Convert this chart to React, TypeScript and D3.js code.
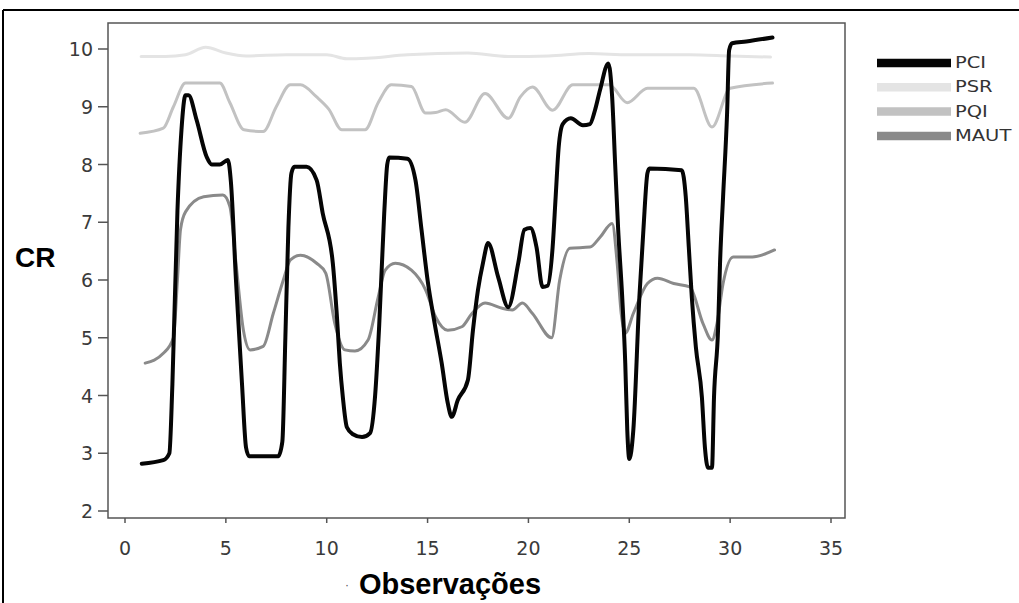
import React from "react";
import * as d3 from "d3";

const seriesNames = ["PCI", "PSR", "PQI", "MAUT"];
const seriesColors = ["#050505", "#e4e4e4", "#c2c2c2", "#8a8a8a"];
const seriesWidths = [4, 3, 3, 3];

const xTicks = [0, 5, 10, 15, 20, 25, 30, 35];
const yTicks = [2, 3, 4, 5, 6, 7, 8, 9, 10];

const pci: [number, number][] = [
  [0.83, 2.82], [1.9, 2.88], [2.2, 3.0], [2.35, 4.2], [2.6, 7.2], [2.8, 8.6], [3.0, 9.2], [3.15, 9.2],
  [3.55, 8.77], [4.05, 8.13], [4.3, 8.0], [4.7, 8.0], [5.1, 8.08], [5.25, 7.7], [5.5, 6.0], [5.8, 4.2],
  [6.0, 3.1], [6.15, 2.95], [7.6, 2.95], [7.8, 3.2], [7.95, 5.0], [8.1, 6.9], [8.25, 7.85], [8.4, 7.96],
  [9.0, 7.96], [9.5, 7.73], [9.8, 7.16], [10.3, 6.3], [10.5, 5.4], [10.65, 4.56], [10.8, 3.97], [11.0, 3.45],
  [11.3, 3.33], [11.75, 3.28], [12.15, 3.35], [12.4, 4.0], [12.6, 5.2], [12.85, 7.15], [13.0, 8.0], [13.1, 8.12],
  [14.0, 8.1], [14.4, 7.73], [14.7, 6.87], [15.0, 6.0], [15.35, 5.25], [15.7, 4.56], [16.0, 3.87], [16.2, 3.63],
  [16.5, 3.92], [17.0, 4.27], [17.25, 5.13], [17.5, 5.83], [17.75, 6.3], [18.0, 6.64], [18.5, 6.05], [19.0, 5.53],
  [19.5, 6.3], [19.8, 6.87], [20.1, 6.9], [20.4, 6.57], [20.7, 5.88], [20.95, 5.9], [21.2, 6.57], [21.35, 7.44],
  [21.5, 8.3], [21.7, 8.7], [22.1, 8.8], [22.7, 8.68], [23.05, 8.7], [23.3, 8.94], [23.55, 9.29], [23.96, 9.75],
  [24.15, 9.17], [24.3, 8.0], [24.45, 6.87], [24.65, 5.7], [24.8, 4.56], [24.9, 3.4], [25.0, 2.9], [25.2, 3.4],
  [25.5, 5.7], [25.7, 6.87], [25.9, 7.85], [26.0, 7.93], [27.6, 7.9], [27.8, 7.44], [27.95, 6.57], [28.1, 5.7],
  [28.3, 4.84], [28.6, 3.97], [28.75, 3.1], [28.9, 2.75], [29.1, 2.75], [29.2, 3.97], [29.4, 5.13], [29.5, 6.3],
  [29.65, 7.44], [29.85, 8.9], [29.95, 9.98], [30.1, 10.1], [30.8, 10.13], [32.1, 10.2],
];

const psr: [number, number][] = [
  [0.8, 9.87], [2, 9.87], [3, 9.9], [4, 10.03], [5, 9.93], [6, 9.88], [8, 9.9], [10, 9.9], [11, 9.83],
  [12, 9.84], [14, 9.9], [17, 9.93], [19, 9.87], [21, 9.88], [23, 9.92], [25, 9.9], [28, 9.9], [30, 9.88], [32, 9.86],
];

const pqi: [number, number][] = [
  [0.75, 8.54], [1.9, 8.63], [2.4, 9.0], [3.0, 9.41], [4.7, 9.41], [5.2, 9.07], [5.9, 8.6], [6.85, 8.57],
  [7.5, 9.0], [8.2, 9.38], [8.7, 9.38], [9.5, 9.17], [10.1, 8.96], [10.75, 8.6], [11.9, 8.6], [12.55, 9.07],
  [13.2, 9.38], [14.2, 9.35], [14.9, 8.89], [15.4, 8.9], [15.9, 8.95], [16.85, 8.73], [17.85, 9.23], [19.0, 8.8],
  [19.6, 9.17], [20.2, 9.34], [21.2, 8.94], [22.2, 9.38], [24.0, 9.38], [24.9, 9.07], [25.9, 9.32], [28.2, 9.32],
  [29.1, 8.65], [30.0, 9.32], [32.1, 9.41],
];

const maut: [number, number][] = [
  [1.0, 4.56], [1.9, 4.73], [2.4, 5.0], [2.6, 6.0], [2.75, 6.87], [3.0, 7.18], [3.9, 7.44], [4.85, 7.47],
  [5.2, 7.27], [5.5, 6.3], [5.87, 5.13], [6.2, 4.79], [6.85, 4.85], [7.35, 5.42], [7.85, 6.0], [8.2, 6.35],
  [8.7, 6.43], [9.5, 6.29], [9.95, 6.12], [10.4, 5.25], [10.9, 4.79], [11.4, 4.77], [12.05, 4.96], [12.55, 5.7],
  [12.9, 6.17], [13.4, 6.29], [14.2, 6.17], [14.9, 5.83], [15.4, 5.36], [16.0, 5.13], [16.7, 5.19], [17.2, 5.42],
  [17.85, 5.6], [18.7, 5.51], [19.2, 5.48], [19.7, 5.6], [20.2, 5.42], [21.15, 5.0], [21.55, 6.0], [22.05, 6.55],
  [23.05, 6.57], [23.55, 6.74], [24.15, 6.98], [24.4, 6.29], [24.6, 5.42], [24.8, 5.08], [25.2, 5.42], [25.9, 5.94],
  [26.4, 6.03], [27.2, 5.94], [28.0, 5.88], [28.65, 5.25], [29.1, 4.96], [29.35, 5.25], [29.65, 5.94], [30.15, 6.4],
  [31.1, 6.4], [32.2, 6.52],
];

const allSeries = [pci, psr, pqi, maut];

export default function App() {
  const x = d3.scaleLinear().domain([0, 35]).range([125, 831]);
  const y = d3.scaleLinear().domain([2, 10]).range([511, 49]);
  const box = { left: 108, top: 23, right: 845, bottom: 518 };
  const line = d3
    .line<[number, number]>()
    .x((d) => x(d[0]))
    .y((d) => y(d[1]))
    .curve(d3.curveMonotoneX);

  const tickFont = "'DejaVu Sans', Verdana, sans-serif";
  const drawOrder = [1, 2, 3, 0];

  return (
    <div style={{ position: "absolute", left: 0, top: 0 }}>
      <svg width={1019} height={603} style={{ display: "block", background: "#fff" }}>
        <line x1={3} y1={10} x2={1019} y2={10} stroke="#000" strokeWidth={2} />
        <line x1={3} y1={10} x2={3} y2={603} stroke="#000" strokeWidth={2} />

        <rect
          x={box.left}
          y={box.top}
          width={box.right - box.left}
          height={box.bottom - box.top}
          fill="none"
          stroke="#555"
          strokeWidth={1.5}
        />

        {yTicks.map((t) => (
          <g key={"y" + t}>
            <line x1={box.left - 10} x2={box.left} y1={y(t)} y2={y(t)} stroke="#555" strokeWidth={1.5} />
            <text
              x={box.left - 15}
              y={y(t)}
              textAnchor="end"
              dominantBaseline="central"
              fontFamily={tickFont}
              fontSize={19}
              fill="#3a3a3a"
            >
              {t}
            </text>
          </g>
        ))}

        {xTicks.map((t) => (
          <g key={"x" + t}>
            <line x1={x(t)} x2={x(t)} y1={box.bottom} y2={box.bottom + 5} stroke="#555" strokeWidth={1.5} />
            <text
              x={x(t)}
              y={548}
              textAnchor="middle"
              dominantBaseline="central"
              fontFamily={tickFont}
              fontSize={19}
              fill="#3a3a3a"
            >
              {t}
            </text>
          </g>
        ))}

        {drawOrder.map((i) => (
          <path
            key={seriesNames[i]}
            d={line(allSeries[i]) || ""}
            fill="none"
            stroke={seriesColors[i]}
            strokeWidth={seriesWidths[i]}
            strokeLinejoin="round"
            strokeLinecap="round"
          />
        ))}

        <text x={15} y={257} dominantBaseline="central" fontFamily="'Liberation Sans', Arial, sans-serif" fontWeight="bold" fontSize={28} fill="#000">
          CR
        </text>
        <text x={345} y={585} dominantBaseline="central" fontFamily="'Liberation Sans', Arial, sans-serif" fontSize={12} fill="#555">
          ·
        </text>
        <text x={450} y={584} textAnchor="middle" dominantBaseline="central" fontFamily="'Liberation Sans', Arial, sans-serif" fontWeight="bold" fontSize={29} fill="#000">
          Observações
        </text>

        {seriesNames.map((name, i) => (
          <g key={"lg" + name}>
            <line x1={877} x2={951} y1={63 + i * 24.3} y2={63 + i * 24.3} stroke={seriesColors[i]} strokeWidth={8.5} />
            <text
              x={955}
              y={63 + i * 24.3}
              dominantBaseline="central"
              fontFamily={tickFont}
              fontSize={15}
              fill="#333"
              transform={`translate(955 0) scale(1.3 1) translate(-955 0)`}
            >
              {name}
            </text>
          </g>
        ))}
      </svg>
    </div>
  );
}
